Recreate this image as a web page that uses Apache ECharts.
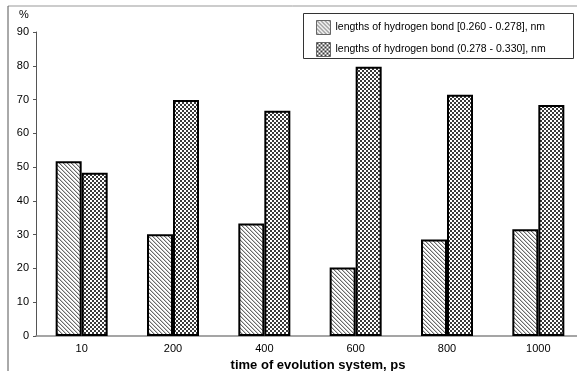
<!DOCTYPE html>
<html>
<head>
<meta charset="utf-8">
<script src="https://cdn.jsdelivr.net/npm/echarts@6/dist/echarts.min.js"></script>
<style>
  html, body { margin: 0; padding: 0; background: #fff; }
  #chart { width: 577px; height: 371px; }
</style>
</head>
<body>
<div id="chart"></div>
<script>
// Evolution times (ps) and share of hydrogen bonds in each length range (%)
const categories = ['10', '200', '400', '600', '800', '1000'];
const shortBonds = [51.7, 30.1, 33.3, 20.3, 28.6, 31.6];
const longBonds = [48.3, 69.9, 66.7, 79.7, 71.4, 68.4];
const seriesNames = [
  'lengths of hydrogen bond [0.260 - 0.278], nm',
  'lengths of hydrogen bond (0.278 - 0.330], nm'
];
const yTicks = { min: 0, max: 90, interval: 10 };

// Diagonal hatch fill
function hatchPattern() {
  const c = document.createElement('canvas');
  c.width = 4; c.height = 4;
  const g = c.getContext('2d');
  g.fillStyle = '#fff';
  g.fillRect(0, 0, 4, 4);
  g.fillStyle = '#6a6a6a';
  for (let i = 0; i < 4; i++) g.fillRect(i, i, 1, 1);
  g.fillStyle = '#c8c8c8';
  for (let i = 0; i < 4; i++) g.fillRect((i + 1) % 4, i, 1, 1);
  return c;
}
// Fine checkerboard fill
function checkerPattern() {
  const c = document.createElement('canvas');
  c.width = 4; c.height = 4;
  const g = c.getContext('2d');
  g.fillStyle = '#fff';
  g.fillRect(0, 0, 4, 4);
  g.fillStyle = '#3a3a3a';
  g.fillRect(0, 0, 2, 2);
  g.fillRect(2, 2, 2, 2);
  return c;
}
const hatchFill = { image: hatchPattern(), repeat: 'repeat' };
const checkerFill = { image: checkerPattern(), repeat: 'repeat' };

const FONT = 'Liberation Sans, Arial, sans-serif';
const chart = echarts.init(document.getElementById('chart'), null, { renderer: 'canvas' });

chart.setOption({
  animation: false,
  backgroundColor: '#fff',
  textStyle: { fontFamily: FONT },
  grid: { left: 36, top: 32, bottom: 35, width: 548, outerBoundsMode: 'none', containLabel: false },
  graphic: [
    // frame lines along the top and left
    { type: 'line', shape: { x1: 8, y1: 6, x2: 577, y2: 6 }, style: { stroke: '#999', lineWidth: 1 } },
    { type: 'line', shape: { x1: 8, y1: 6, x2: 8, y2: 371 }, style: { stroke: '#555', lineWidth: 1 } },
    // legend box
    { type: 'rect', shape: { x: 303.5, y: 13.5, width: 270, height: 45 }, style: { fill: '#fff', stroke: '#333', lineWidth: 1 }, z: 0 },
    // unit label
    { type: 'text', left: 19, top: 9, style: { text: '%', font: '11px ' + FONT, fill: '#000' } }
  ],
  legend: {
    orient: 'vertical',
    left: 316,
    top: 20,
    padding: 0,
    itemGap: 7,
    itemWidth: 14,
    itemHeight: 14,
    icon: 'rect',
    textStyle: { fontSize: 10.5, color: '#000', fontFamily: FONT },
    z: 5,
    data: [
      { name: seriesNames[0], itemStyle: { color: hatchFill, borderColor: '#666', borderWidth: 1 } },
      { name: seriesNames[1], itemStyle: { color: checkerFill, borderColor: '#666', borderWidth: 1 } }
    ]
  },
  xAxis: {
    type: 'category',
    data: categories,
    name: 'time of evolution system, ps',
    nameLocation: 'middle',
    nameGap: 22,
    nameTextStyle: { fontSize: 13, fontWeight: 'bold', color: '#000', padding: [0, 0, 0, 16] },
    axisLine: { lineStyle: { color: '#888', width: 1.5 } },
    axisTick: { show: false },
    axisLabel: { fontSize: 11, color: '#000', margin: 7 },
    splitLine: { show: false }
  },
  yAxis: {
    type: 'value',
    min: yTicks.min,
    max: yTicks.max,
    interval: yTicks.interval,
    axisLine: { show: true, lineStyle: { color: '#555', width: 1 } },
    axisTick: { show: true, length: 3, lineStyle: { color: '#555' } },
    axisLabel: { fontSize: 11, color: '#000', margin: 7 },
    splitLine: { show: false }
  },
  series: [
    {
      name: seriesNames[0],
      type: 'bar',
      data: shortBonds,
      barWidth: 26,
      barGap: '0%',
      itemStyle: { color: hatchFill, borderColor: '#000', borderWidth: 2 }
    },
    {
      name: seriesNames[1],
      type: 'bar',
      data: longBonds,
      barWidth: 26,
      barGap: '0%',
      itemStyle: { color: checkerFill, borderColor: '#000', borderWidth: 2 }
    }
  ]
});
</script>
</body>
</html>
